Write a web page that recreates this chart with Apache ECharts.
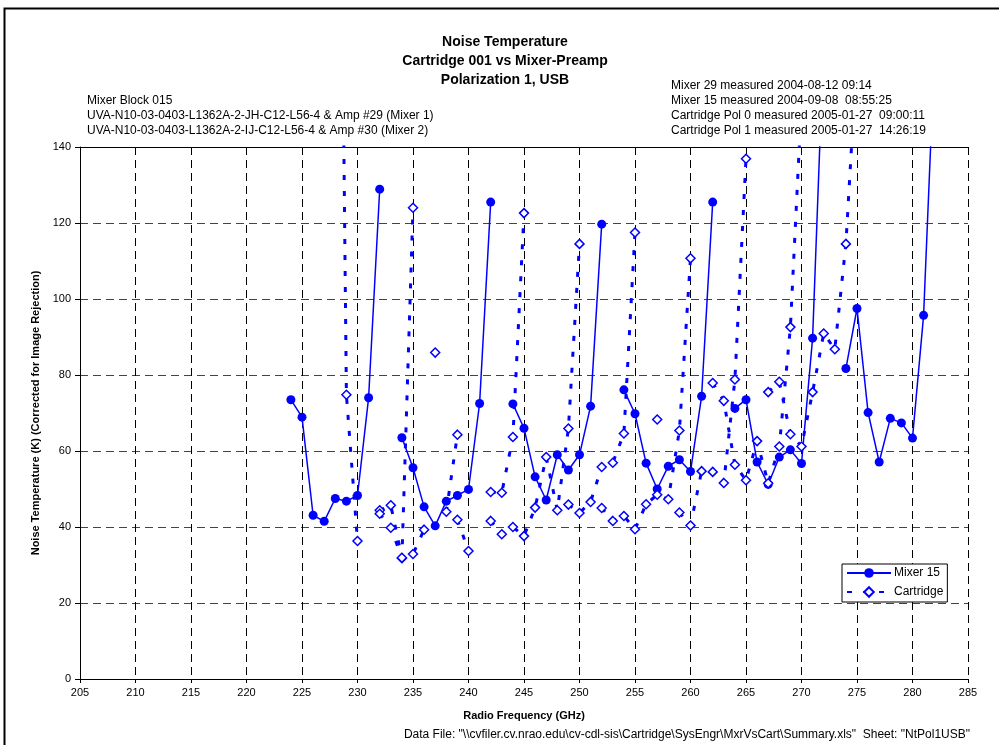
<!DOCTYPE html>
<html><head><meta charset="utf-8">
<script src="https://cdn.jsdelivr.net/npm/echarts@6/dist/echarts.min.js"></script>
<style>html,body{margin:0;padding:0;background:#fff}#c{width:999px;height:745px}</style>
</head><body><div id="c"></div>
<script>
// ---- data ----
const titleLines = ['Noise Temperature', 'Cartridge 001 vs Mixer-Preamp', 'Polarization 1, USB'];
const leftInfo = ['Mixer Block 015',
  'UVA-N10-03-0403-L1362A-2-JH-C12-L56-4 & Amp #29 (Mixer 1)',
  'UVA-N10-03-0403-L1362A-2-IJ-C12-L56-4 & Amp #30 (Mixer 2)'];
const rightInfo = ['Mixer 29 measured 2004-08-12 09:14',
  'Mixer 15 measured 2004-09-08  08:55:25',
  'Cartridge Pol 0 measured 2005-01-27  09:00:11',
  'Cartridge Pol 1 measured 2005-01-27  14:26:19'];
const footer = 'Data File: "\\\\cvfiler.cv.nrao.edu\\cv-cdl-sis\\Cartridge\\SysEngr\\MxrVsCart\\Summary.xls"  Sheet: "NtPol1USB"';

const mixerGHz = [224,225,226,227,228,229,230,231,232,null,
  234,235,236,237,238,239,240,241,242,null,
  244,245,246,247,248,249,250,251,252,null,
  254,255,256,257,258,259,260,261,262,null,
  264,265,266,267,268,269,270,271,272,null,
  274,275,276,277,278,279,280,281,282];
const mixerK = [73.5,68.9,43.1,41.5,47.5,46.8,48.3,74.0,128.9,null,
  63.5,55.6,45.3,40.3,46.8,48.3,49.9,72.5,125.5,null,
  72.4,66.0,53.2,47.1,59.0,55.0,59.0,71.8,119.7,null,
  76.1,69.8,56.8,50.0,56.0,57.7,54.6,74.4,125.5,null,
  71.2,73.5,57.1,51.2,58.4,60.3,56.7,89.7,168,null,
  81.7,97.5,70.1,57.1,68.6,67.4,63.4,95.7,166];

const cartGHz = [228,229,230,231,232,233,234,235,null,
  232,233,234,235,236,237,238,239,null,
  237,238,239,240,241,242,243,244,245,null,
  242,243,244,245,246,247,248,249,250,null,
  247,248,249,250,251,252,253,254,255,null,
  252,253,254,255,256,257,258,259,260,null,
  257,258,259,260,261,262,263,264,265,null,
  262,263,264,265,266,267,268,269,270,null,
  267,268,269,270,271,272,273,274,275];
const cartK = [360,74.8,36.3,null,44.4,45.7,31.8,124.0,null,
  43.5,39.8,31.9,32.9,39.3,null,44.0,64.3,null,
  85.9,null,41.9,33.7,null,49.2,49.0,63.7,122.6,null,
  41.6,38.1,40.0,37.6,45.1,58.4,44.4,65.9,114.5,null,
  null,null,45.9,43.7,46.6,55.8,56.9,64.6,117.5,null,
  45.0,41.6,42.9,39.4,46.0,48.5,47.3,65.4,110.7,null,
  68.3,null,43.8,40.4,54.7,54.5,51.6,78.8,136.9,null,
  77.9,73.2,56.4,52.3,62.6,51.5,61.2,92.6,152,null,
  75.5,78.2,64.4,61.2,75.5,90.9,86.8,114.5,165];

const seriesNames = ['Mixer 15', 'Cartridge'];

// ---- chart ----
function pairs(xs, ys) {
  return xs.map((x, i) => (x == null || ys[i] == null) ? ['-', '-'] : [x, ys[i]]);
}
const FONT = '"Liberation Sans", Arial, sans-serif';
const blue = '#0000ff';
const chart = echarts.init(document.getElementById('c'), null, {renderer: 'canvas'});

const graphics = [
  {type: 'rect', shape: {x: 4.5, y: 8.5, width: 1100, height: 1000}, style: {fill: null, stroke: '#000', lineWidth: 2}, silent: true}
];
titleLines.forEach((t, i) => graphics.push({type: 'text', x: 505, y: 42.5 + i * 18.7,
  style: {text: t, font: 'bold 14px ' + FONT, fill: '#000', align: 'center', verticalAlign: 'middle'}}));
leftInfo.forEach((t, i) => graphics.push({type: 'text', x: 87, y: 101 + i * 15,
  style: {text: t, font: '12px ' + FONT, fill: '#000', align: 'left', verticalAlign: 'middle'}}));
rightInfo.forEach((t, i) => graphics.push({type: 'text', x: 671, y: 85.5 + i * 15.2,
  style: {text: t, font: '12px ' + FONT, fill: '#000', align: 'left', verticalAlign: 'middle'}}));
graphics.push({type: 'text', x: 970, y: 735,
  style: {text: footer, font: '12px ' + FONT, fill: '#000', align: 'right', verticalAlign: 'middle'}});

const option = {
  animation: false,
  backgroundColor: '#fff',
  textStyle: {fontFamily: FONT},
  grid: {left: 80, right: 31, top: 147, bottom: 66, containLabel: false},
  xAxis: [{
    type: 'value', min: 205, max: 285, interval: 5,
    name: 'Radio Frequency (GHz)', nameLocation: 'middle', nameGap: 31,
    nameTextStyle: {fontWeight: 'bold', fontSize: 11, color: '#000', fontFamily: FONT},
    axisLine: {onZero: false, lineStyle: {color: '#000', width: 1}},
    axisTick: {show: true, length: 4, lineStyle: {color: '#000'}},
    axisLabel: {fontSize: 11, color: '#000', margin: 8, fontFamily: FONT},
    splitLine: {show: true, lineStyle: {color: '#000', type: [8, 5], width: 1}}
  }, {
    type: 'value', position: 'top', min: 205, max: 285, interval: 5,
    axisLine: {show: true, onZero: false, lineStyle: {color: '#000', width: 1}},
    axisTick: {show: false}, axisLabel: {show: false}, splitLine: {show: false}
  }],
  yAxis: {
    type: 'value', min: 0, max: 140, interval: 20,
    name: 'Noise Temperature (K) (Corrected for Image Rejection)', nameLocation: 'middle', nameGap: 37,
    nameTextStyle: {fontWeight: 'bold', fontSize: 11, color: '#000', fontFamily: FONT},
    axisLine: {show: true, lineStyle: {color: '#000', width: 1}},
    axisTick: {show: true, length: 5, lineStyle: {color: '#000'}},
    axisLabel: {fontSize: 11, color: '#000', margin: 9, fontFamily: FONT},
    splitLine: {show: true, lineStyle: {color: '#444', type: [8, 5], width: 1}}
  },
  legend: {
    orient: 'vertical', left: 842, top: 564,
    data: seriesNames,
    itemWidth: 44, itemHeight: 12, itemGap: 7,
    padding: [3, 4, 4, 4],
    borderColor: '#000', borderWidth: 1, backgroundColor: '#fff',
    textStyle: {fontSize: 12, color: '#000', fontFamily: FONT, padding: [0, 0, 0, -2]}
  },
  series: [{
    name: seriesNames[0], type: 'line', data: pairs(mixerGHz, mixerK),
    symbol: 'circle', symbolSize: 9, showAllSymbol: true, clip: true,
    itemStyle: {color: blue},
    lineStyle: {color: blue, width: 1.5},
    connectNulls: false, z: 3
  }, {
    name: seriesNames[1], type: 'line', data: pairs(cartGHz, cartK),
    symbol: 'diamond', symbolSize: 9, showAllSymbol: true, clip: true,
    itemStyle: {color: '#fff', borderColor: blue, borderWidth: 1.5},
    lineStyle: {color: blue, width: 3, type: [5, 11]},
    connectNulls: false, z: 4
  }],
  graphic: graphics
};
chart.setOption(option);
</script></body></html>
